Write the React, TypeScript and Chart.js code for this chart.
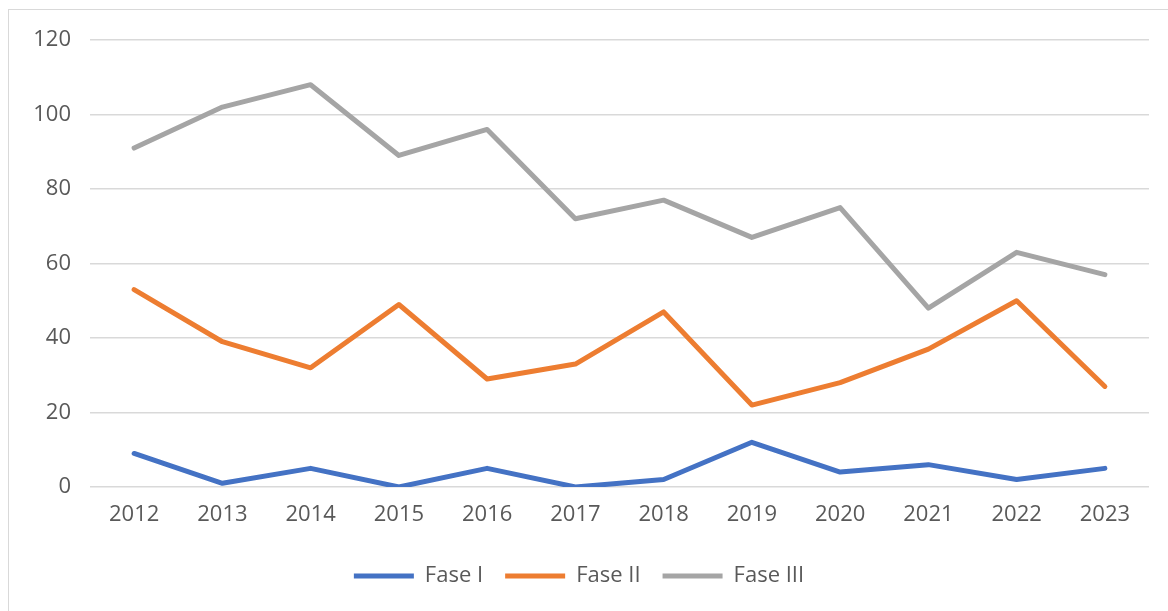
import React, { useEffect, useRef } from "react";
import { Chart, registerables } from "chart.js";

Chart.register(...registerables);

const years = ["2012", "2013", "2014", "2015", "2016", "2017", "2018", "2019", "2020", "2021", "2022", "2023"];
const faseI = [9, 1, 5, 0, 5, 0, 2, 12, 4, 6, 2, 5];
const faseII = [53, 39, 32, 49, 29, 33, 47, 22, 28, 37, 50, 27];
const faseIII = [91, 102, 108, 89, 96, 72, 77, 67, 75, 48, 63, 57];
const seriesNames = ["Fase I", "Fase II", "Fase III"];
const seriesColors = ["#4472C4", "#ED7D31", "#A5A5A5"];

const FONT = "'Open Sans', sans-serif";
const TEXT = "#595959";

export default function App() {
  const ref = useRef<HTMLCanvasElement | null>(null);

  useEffect(() => {
    document.body.style.margin = "0";
    document.body.style.overflow = "hidden";
    const canvas = ref.current;
    if (!canvas) return;
    const data = [faseI, faseII, faseIII];
    const chart = new Chart(canvas, {
      type: "line",
      data: {
        labels: years,
        datasets: data.map((d, i) => ({
          label: seriesNames[i],
          data: d,
          borderColor: seriesColors[i],
          backgroundColor: seriesColors[i],
          borderWidth: 5,
          borderCapStyle: "round",
          borderJoinStyle: "round",
          pointRadius: 0,
          pointHoverRadius: 0,
          tension: 0,
          fill: false,
        })),
      },
      options: {
        animation: false,
        responsive: false,
        maintainAspectRatio: false,
        layout: { padding: { left: 9, right: 19, top: 40, bottom: 14 } },
        plugins: {
          tooltip: { enabled: false },
          legend: {
            position: "bottom",
            labels: {
              usePointStyle: true,
              pointStyle: "line",
              pointStyleWidth: 60,
              color: TEXT,
              font: { family: FONT, size: 22 },
              padding: 22,
            },
          },
        },
        scales: {
          x: {
            offset: true,
            grid: { display: false, drawTicks: false },
            border: { display: false },
            ticks: { color: TEXT, font: { family: FONT, size: 22 }, padding: 15, maxRotation: 0 },
            afterFit: (s: any) => { s.height = 56; },
          },
          y: {
            min: 0,
            max: 120,
            ticks: { stepSize: 20, color: TEXT, font: { family: FONT, size: 22 }, padding: 19 },
            grid: { color: "#D9D9D9", lineWidth: 1.5, drawTicks: false },
            border: { display: false },
            afterFit: (s: any) => { s.width = 81; },
          },
        },
      },
    });
    return () => chart.destroy();
  }, []);

  return (
    <div style={{ position: "relative", width: 1168, height: 611, overflow: "hidden", background: "#fff" }}>
      <div
        style={{
          position: "absolute",
          left: 8,
          top: 9,
          width: 1200,
          height: 700,
          borderTop: "1px solid #D9D9D9",
          borderLeft: "1px solid #D9D9D9",
        }}
      />
      <canvas ref={ref} width={1168} height={611} style={{ position: "absolute", left: 0, top: 0 }} />
    </div>
  );
}
